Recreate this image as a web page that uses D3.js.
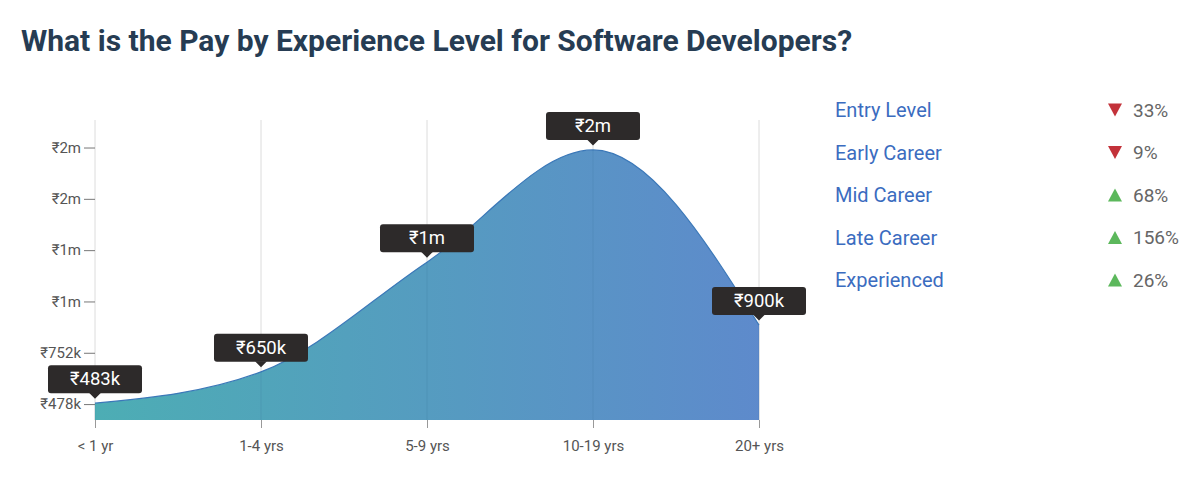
<!DOCTYPE html>
<html>
<head>
<meta charset="utf-8">
<script src="https://cdn.jsdelivr.net/npm/d3@7"></script>
<style>
  html, body { margin: 0; padding: 0; background: #fff; }
  svg { display: block; font-family: Roboto, "Open Sans", sans-serif; }
</style>
</head>
<body>
<svg id="chart" width="1201" height="484"></svg>
<script>
const title = "What is the Pay by Experience Level for Software Developers?";
const categories = ["< 1 yr", "1-4 yrs", "5-9 yrs", "10-19 yrs", "20+ yrs"];
const pay = [483000, 650000, 1236000, 1835000, 900000];
const yTickValues = [478000, 752000, 1026000, 1300000, 1574000, 1848000];
const yDomain = [393000, 1995000];
const legendLabels = ["Entry Level", "Early Career", "Mid Career", "Late Career", "Experienced"];
const legendChange = [-33, -9, 68, 156, 26];

const fmt = v => "₹" + (v >= 1e6 ? Math.round(v / 1e6) + "m" : Math.round(v / 1e3) + "k");

const svg = d3.select("#chart");

svg.append("text")
  .attr("x", 21).attr("y", 51)
  .attr("font-size", 30).attr("font-weight", 700)
  .attr("fill", "#263c53")
  .text(title);

const x = d3.scalePoint().domain(categories).range([95, 759]);
const y = d3.scaleLinear().domain(yDomain).range([420, 120]);

const defs = svg.append("defs");
const grad = defs.append("linearGradient").attr("id", "g")
  .attr("gradientUnits", "userSpaceOnUse")
  .attr("x1", 95).attr("x2", 759).attr("y1", 0).attr("y2", 0);
grad.append("stop").attr("offset", "0%").attr("stop-color", "#43a9b0");
grad.append("stop").attr("offset", "100%").attr("stop-color", "#5584c9");

// grid lines
svg.append("g").selectAll("line").data(categories).join("line")
  .attr("x1", d => x(d)).attr("x2", d => x(d))
  .attr("y1", 120).attr("y2", 420)
  .attr("stroke", "#dcdcdc").attr("stroke-width", 1);

const data = categories.map((c, i) => ({ c, v: pay[i] }));

const area = d3.area().curve(d3.curveMonotoneX)
  .x(d => x(d.c)).y0(y(yDomain[0])).y1(d => y(d.v));
const line = d3.line().curve(d3.curveMonotoneX)
  .x(d => x(d.c)).y(d => y(d.v));

svg.append("path").datum(data).attr("d", area)
  .attr("fill", "url(#g)").attr("fill-opacity", 0.95);
svg.append("path").datum(data).attr("d", line)
  .attr("fill", "none").attr("stroke", "#3b78b8").attr("stroke-width", 1.2);

// faint grid over area
svg.append("g").selectAll("line").data(categories).join("line")
  .attr("x1", d => x(d)).attr("x2", d => x(d))
  .attr("y1", d => y(pay[categories.indexOf(d)])).attr("y2", 420)
  .attr("stroke", "#3a6f9a").attr("stroke-opacity", 0.15);

// x axis
const xAxis = d3.axisBottom(x).tickSize(8).tickPadding(12);
const gx = svg.append("g").attr("transform", "translate(0,420)").call(xAxis);
gx.select(".domain").remove();
gx.selectAll(".tick line").attr("stroke", "#999");
gx.selectAll(".tick text").attr("font-size", 15).attr("fill", "#555")
  .attr("font-family", "Roboto, sans-serif");

// y axis
const yAxis = d3.axisLeft(y).tickValues(yTickValues).tickFormat(fmt).tickSize(11).tickPadding(3);
const gy = svg.append("g").attr("transform", "translate(95,0)").call(yAxis);
gy.select(".domain").remove();
gy.selectAll(".tick line").attr("stroke", "#777");
gy.selectAll(".tick text").attr("font-size", 15).attr("fill", "#555")
  .attr("font-family", "Roboto, sans-serif");

// value tooltips
const tips = svg.append("g").selectAll("g").data(data).join("g")
  .attr("transform", d => `translate(${x(d.c)},${y(d.v)})`);
tips.append("rect")
  .attr("x", -47).attr("y", -38).attr("width", 94).attr("height", 28)
  .attr("rx", 3).attr("fill", "#2d2a2a");
tips.append("path").attr("d", "M-6,-10.5L6,-10.5L0,-4.5Z").attr("fill", "#2d2a2a");
tips.append("text")
  .attr("x", 0).attr("y", -24).attr("text-anchor", "middle")
  .attr("dominant-baseline", "central")
  .attr("font-size", 18.5).attr("fill", "#fff")
  .text(d => fmt(d.v));

// legend
const leg = svg.append("g").selectAll("g").data(legendLabels).join("g")
  .attr("transform", (d, i) => `translate(0,${110 + i * 42.5})`);
leg.append("text").attr("x", 835).attr("y", 0)
  .attr("dominant-baseline", "central")
  .attr("font-size", 20).attr("fill", "#3b6cbf")
  .text(d => d);
leg.append("path")
  .attr("transform", "translate(1115,0)")
  .attr("d", (d, i) => legendChange[i] < 0 ? "M-7,-6.5L7,-6.5L0,6.5Z" : "M-7,6.5L7,6.5L0,-6.5Z")
  .attr("fill", (d, i) => legendChange[i] < 0 ? "#c3323a" : "#5cb85c");
leg.append("text").attr("x", 1133).attr("y", 0)
  .attr("dominant-baseline", "central")
  .attr("font-size", 19).attr("fill", "#666")
  .text((d, i) => Math.abs(legendChange[i]) + "%");
</script>
</body>
</html>
